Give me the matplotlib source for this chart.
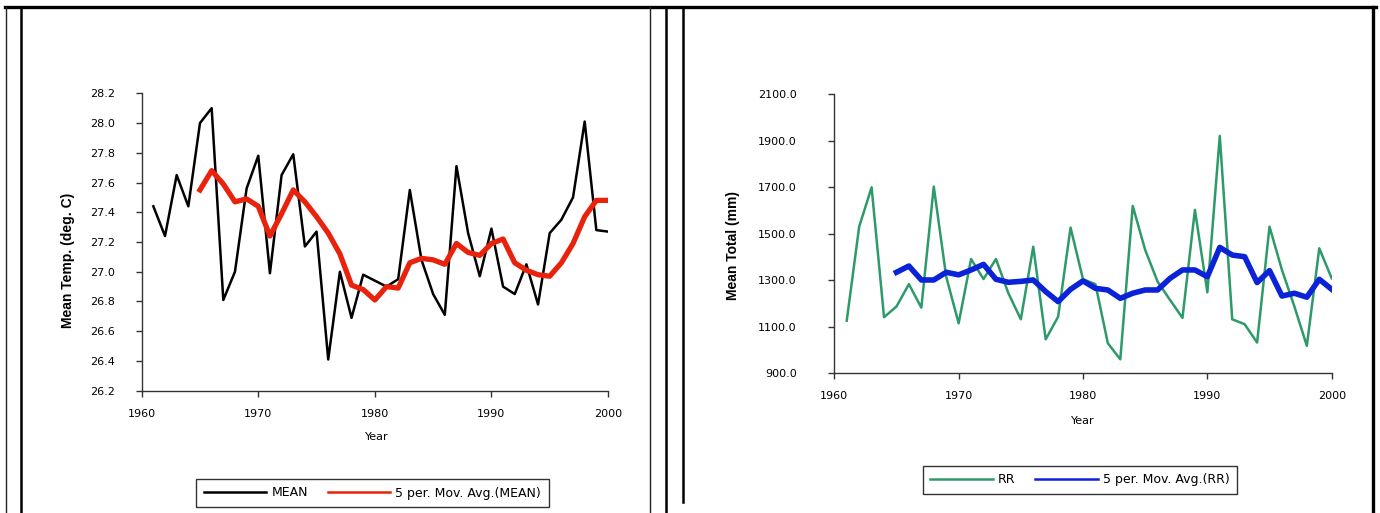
import matplotlib
matplotlib.use("Agg")
import matplotlib.pyplot as plt

plt.rcParams['font.family'] = ['DejaVu Sans']

years = list(range(1961, 2001))
ma_years = list(range(1965, 2001))

mean_temp = [27.44, 27.24, 27.65, 27.44, 28.00, 28.10, 26.81, 27.00, 27.56, 27.78,
             26.99, 27.65, 27.79, 27.17, 27.27, 26.41, 27.00, 26.69, 26.98, 26.94,
             26.90, 26.95, 27.55, 27.08, 26.85, 26.71, 27.71, 27.26, 26.97, 27.29,
             26.90, 26.85, 27.05, 26.78, 27.26, 27.35, 27.50, 28.01, 27.28, 27.27]
ma_temp = [27.55, 27.68, 27.59, 27.47, 27.49, 27.44, 27.24, 27.39, 27.55, 27.47,
           27.37, 27.26, 27.12, 26.91, 26.88, 26.81, 26.90, 26.89, 27.06, 27.09,
           27.08, 27.05, 27.19, 27.13, 27.11, 27.19, 27.22, 27.06, 27.01, 26.98,
           26.97, 27.06, 27.19, 27.37, 27.48, 27.48]

rr = [1126, 1530, 1699, 1141, 1187, 1283, 1182, 1702, 1315, 1115,
      1391, 1305, 1391, 1244, 1132, 1444, 1046, 1143, 1526, 1304,
      1283, 1029, 960, 1619, 1430, 1294, 1215, 1138, 1602, 1248,
      1920, 1132, 1111, 1032, 1530, 1344, 1187, 1018, 1437, 1308]
ma_rr = [1334, 1361, 1301, 1301, 1334, 1323, 1344, 1368, 1304, 1291,
         1295, 1301, 1251, 1208, 1261, 1297, 1265, 1258, 1222, 1244,
         1258, 1258, 1308, 1344, 1344, 1315, 1441, 1408, 1401, 1290,
         1341, 1232, 1244, 1227, 1304, 1261]

x_ticks = [1960, 1970, 1980, 1990, 2000]
temp_ticks = [26.2, 26.4, 26.6, 26.8, 27.0, 27.2, 27.4, 27.6, 27.8, 28.0, 28.2]
rr_ticks = [900, 1100, 1300, 1500, 1700, 1900, 2100]

W, H = 1380, 513
fig = plt.figure(figsize=(W / 100, H / 100), dpi=100)

# frame lines of the surrounding table (pixel coords)
bg = fig.add_axes([0, 0, 1, 1], zorder=0)
bg.set_xlim(0, W)
bg.set_ylim(H, 0)
bg.axis('off')
bg.plot([5, 1376], [7, 7], color='black', lw=2.4)
bg.plot([6, 6], [7, H], color='#222222', lw=1.0)
bg.plot([21, 21], [7, H], color='black', lw=1.8)
bg.plot([650, 650], [7, H], color='#222222', lw=1.0)
bg.plot([666, 666], [7, H], color='black', lw=1.8)
bg.plot([683, 683], [7, 502], color='black', lw=1.8)
bg.plot([1373, 1373], [7, H], color='black', lw=2.4)


def style_axes(ax):
    for s in ['top', 'right']:
        ax.spines[s].set_visible(False)
    for s in ['left', 'bottom']:
        ax.spines[s].set_color('#333333')
        ax.spines[s].set_linewidth(1.0)
    ax.tick_params(direction='out', length=4, width=1.0, color='#333333',
                   labelsize=8)
    ax.patch.set_alpha(0)


def add_legend(ax, center):
    h, l = ax.get_legend_handles_labels()
    leg = fig.legend(h, l, loc='center', bbox_to_anchor=center, ncol=2,
                     fontsize=9, frameon=True, fancybox=False, edgecolor='black',
                     handlelength=5.0, columnspacing=1.6, borderpad=0.6,
                     handletextpad=0.4)
    leg.get_frame().set_linewidth(1.0)
    for ln in leg.get_lines():
        ln.set_linewidth(1.8)
    return leg


label_font = ['Liberation Sans', 'DejaVu Sans']

# left chart
ax1 = fig.add_axes([141.7 / W, 1 - 390.7 / H, (608 - 141.7) / W, (390.7 - 93.3) / H])
style_axes(ax1)
ax1.plot(years, mean_temp, color='black', lw=1.8, label='MEAN')
ax1.plot(ma_years, ma_temp, color='#e8220c', lw=3.8, label='5 per. Mov. Avg.(MEAN)')
ax1.set_xlim(1960, 2000)
ax1.set_ylim(26.2, 28.2)
ax1.set_xticks(x_ticks)
ax1.set_yticks(temp_ticks)
ax1.set_yticklabels(['%.1f' % t for t in temp_ticks])
ax1.tick_params(axis='x', pad=9)
ax1.tick_params(axis='y', pad=15)
fig.text(68 / W, 1 - 260 / H, 'Mean Temp. (deg. C)', rotation=90, ha='center',
         va='center', fontsize=10, fontweight='bold', family=label_font)
fig.text(377 / W, 1 - 437 / H, 'Year', ha='center', va='center', fontsize=8)
add_legend(ax1, (372.5 / W, 1 - 493 / H))

# right chart
ax2 = fig.add_axes([834.3 / W, 1 - 373.3 / H, (1331.7 - 834.3) / W, (373.3 - 94) / H])
style_axes(ax2)
ax2.plot(years, rr, color='#2e9a6a', lw=1.8, label='RR')
ax2.plot(ma_years, ma_rr, color='#0a22d8', lw=4.0, label='5 per. Mov. Avg.(RR)')
ax2.set_xlim(1960, 2000)
ax2.set_ylim(900, 2100)
ax2.set_xticks(x_ticks)
ax2.set_yticks(rr_ticks)
ax2.set_yticklabels(['%.1f' % t for t in rr_ticks])
ax2.tick_params(axis='x', pad=9)
ax2.tick_params(axis='y', pad=23)
fig.text(733 / W, 1 - 246 / H, 'Mean Total (mm)', rotation=90, ha='center',
         va='center', fontsize=10, fontweight='bold', family=label_font)
fig.text(1083 / W, 1 - 421 / H, 'Year', ha='center', va='center', fontsize=8)
add_legend(ax2, (1080 / W, 1 - 479.5 / H))

fig.savefig('out.png', dpi=100)
